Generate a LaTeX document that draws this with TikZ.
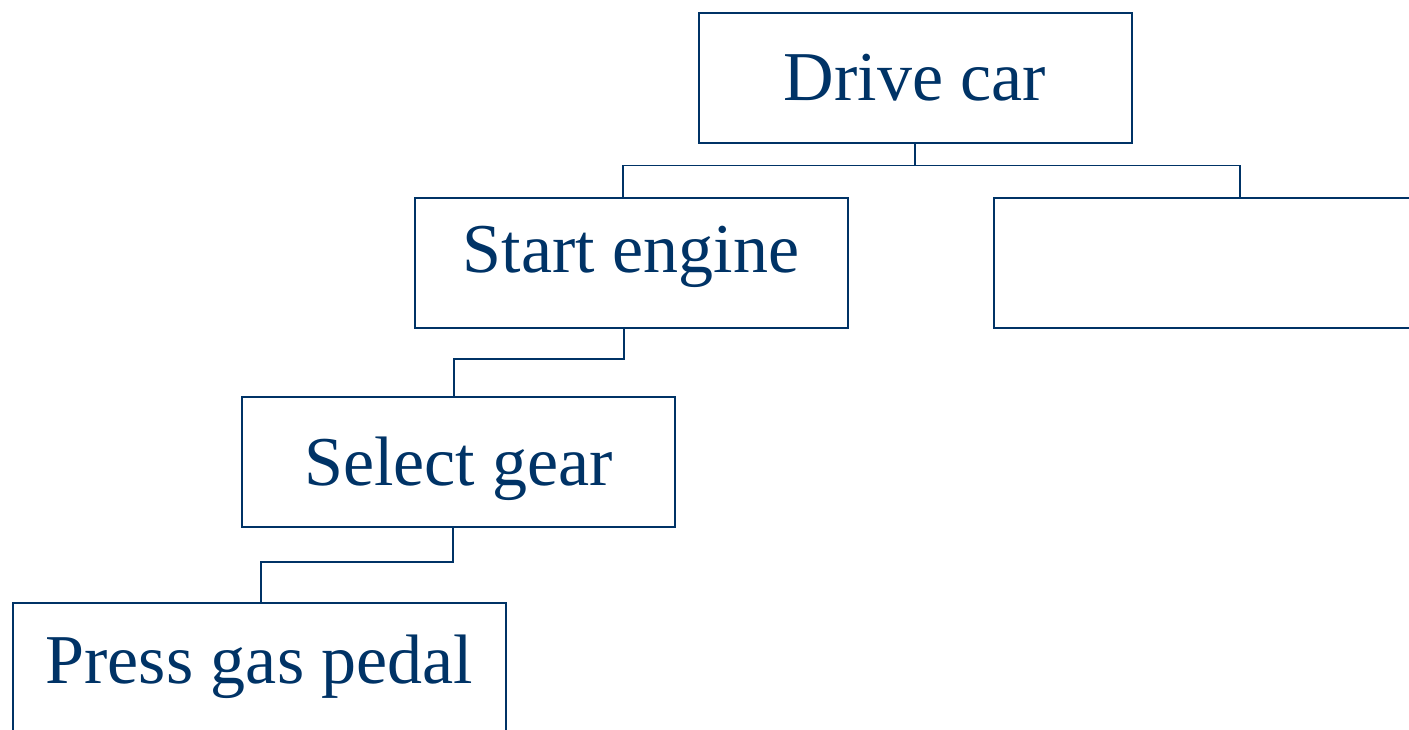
\documentclass[tikz,border=0pt]{standalone}
\usepackage[usenames,dvipsnames]{xcolor}
\usepackage{fontspec}
\setmainfont{Liberation Serif}
\usepackage{tikz}
\usetikzlibrary{arrows.meta}

\definecolor{navy}{HTML}{003366}

\begin{document}
\begin{tikzpicture}[x=0.5pt, y=-0.5pt]
	\useasboundingbox (0,0) rectangle (1409,729);
	\clip (0,0) rectangle (1409,729);
	\begin{scope}[every node/.style = {rectangle, draw=navy, text=navy, line width=1pt,
			inner sep=0pt, minimum width=216.5pt, minimum height=65pt,
			text height=23pt, text depth=0pt, font=\fontsize{35}{42}\selectfont}]
		\node (drive)  at (915,77.5)  {Drive car};
		\node[text depth=14pt] (start) at (631,263) {Start engine};
		\node[minimum width=246pt] (blank) at (1240,263) {};
		\node (select) at (458.7,462) {Select gear};
		\node[minimum width=246.5pt, text depth=8pt] (press) at (259.5,668) {Press gas pedal};
	\end{scope}
	\begin{scope}[every path/.style={draw=navy, line width=0.9pt}]
		\draw (drive.south) -- ++(0,22) coordinate (bus);
		\draw ([xshift=-4pt]start.north) |- (bus) -| (blank.north);
		\draw ([xshift=-3.7pt]start.south) -- ++(0,30) -| ([xshift=-2.4pt]select.north);
		\draw ([xshift=-2.7pt]select.south) -- ++(0,34) -| ([xshift=0.75pt]press.north);
	\end{scope}
\end{tikzpicture}
\end{document}
